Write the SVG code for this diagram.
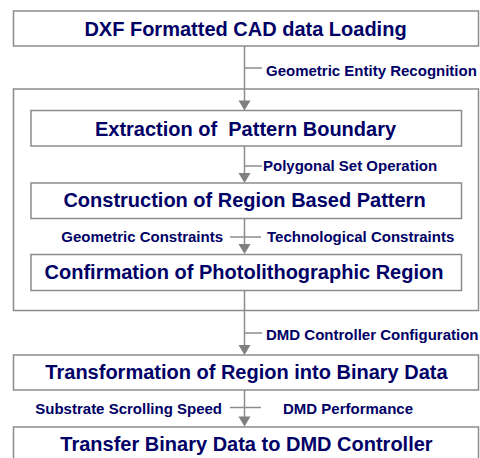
<svg xmlns="http://www.w3.org/2000/svg" width="480" height="458" viewBox="0 0 480 458">
<style>
.box{fill:#fff;stroke:#8c8c8c;stroke-width:1.5}
.t{font-family:"Liberation Sans",Arial,sans-serif;font-weight:bold;font-size:20px;fill:#000066;text-anchor:middle;white-space:pre}
.l{font-family:"Liberation Sans",Arial,sans-serif;font-weight:bold;font-size:15px;fill:#000066}
.c{stroke:#8c8c8c;stroke-width:1.5;fill:none}
.a{fill:#808080}
</style>
<rect width="480" height="458" fill="#fff"/>
<g id="outer"><rect class="box" x="13.5" y="89" width="465" height="221.5"/></g>
<g id="n1"><rect class="box" x="13.5" y="11" width="465" height="35"/><text class="t" x="245.5" y="36">DXF Formatted CAD data Loading</text></g>
<g id="n2"><rect class="box" x="31" y="110.5" width="430.5" height="35.5"/><text class="t" x="245.5" y="136" xml:space="preserve">Extraction of  Pattern Boundary</text></g>
<g id="n3"><rect class="box" x="31" y="183" width="430.5" height="35.5"/><text class="t" x="244.5" y="207">Construction of Region Based Pattern</text></g>
<g id="n4"><rect class="box" x="31" y="254.5" width="430.5" height="36"/><text class="t" x="244" y="279">Confirmation of Photolithographic Region</text></g>
<g id="n5"><rect class="box" x="13.5" y="355" width="465" height="35"/><text class="t" x="246.5" y="379">Transformation of Region into Binary Data</text></g>
<g id="n6"><rect class="box" x="13.5" y="427" width="465" height="40"/><text class="t" x="246.5" y="451">Transfer Binary Data to DMD Controller</text></g>
<g id="connectors">
<line class="c" x1="244.5" y1="46" x2="244.5" y2="101"/>
<line class="c" x1="244.5" y1="68" x2="262" y2="68"/>
<polygon class="a" points="238.5,100.5 250.5,100.5 244.5,110.5"/>
<text class="l" x="266" y="76">Geometric Entity Recognition</text>

<line class="c" x1="244.5" y1="146" x2="244.5" y2="174"/>
<line class="c" x1="244.5" y1="166" x2="262" y2="166"/>
<polygon class="a" points="238.5,173 250.5,173 244.5,183"/>
<text class="l" x="263" y="171">Polygonal Set Operation</text>

<line class="c" x1="244.5" y1="218.5" x2="244.5" y2="245"/>
<line class="c" x1="230" y1="237" x2="261" y2="237"/>
<polygon class="a" points="238.5,244 250.5,244 244.5,254"/>
<text class="l" x="223" y="242" text-anchor="end">Geometric Constraints</text>
<text class="l" x="267" y="242">Technological Constraints</text>

<line class="c" x1="244.5" y1="290.5" x2="244.5" y2="346"/>
<line class="c" x1="244.5" y1="333" x2="262" y2="333"/>
<polygon class="a" points="238.5,345 250.5,345 244.5,355"/>
<text class="l" x="266" y="340">DMD Controller Configuration</text>

<line class="c" x1="244.5" y1="390" x2="244.5" y2="418"/>
<line class="c" x1="230" y1="407.5" x2="261" y2="407.5"/>
<polygon class="a" points="238.5,416.5 250.5,416.5 244.5,426.5"/>
<text class="l" x="222" y="414" text-anchor="end">Substrate Scrolling Speed</text>
<text class="l" x="283" y="414">DMD Performance</text>
</g>
</svg>
